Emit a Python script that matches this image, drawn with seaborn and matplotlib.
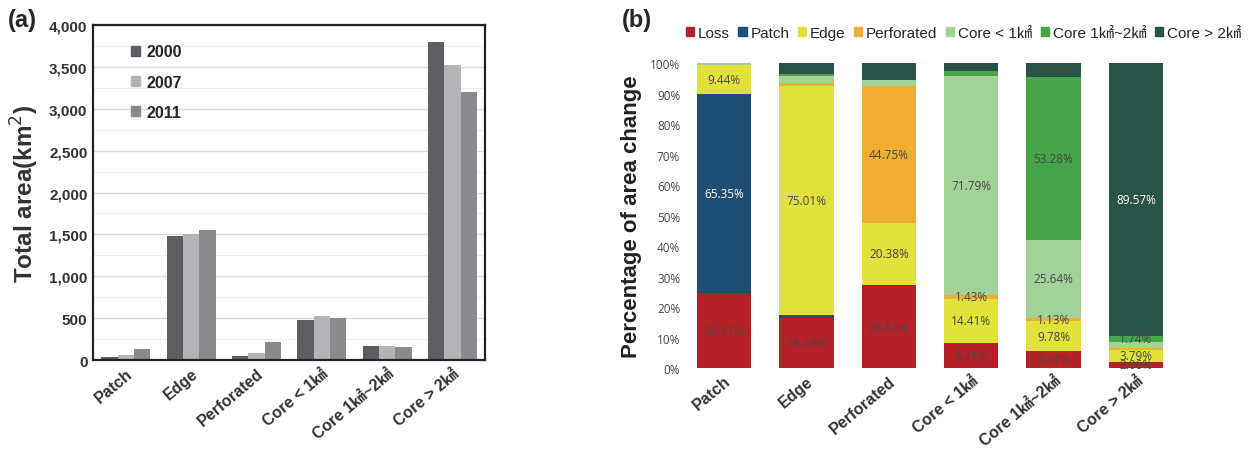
import numpy as np
import pandas as pd
import matplotlib.pyplot as plt
import matplotlib.ticker as mticker
from matplotlib.patches import Patch
import seaborn as sns

sns.set_theme(style="white")
plt.rcParams["font.family"] = ["Liberation Sans", "Noto Sans CJK KR", "DejaVu Sans"]

# ---- data -------------------------------------------------------------
CATEGORIES = ["Patch", "Edge", "Perforated", "Core < 1㎢", "Core 1㎢~2㎢", "Core > 2㎢"]
YEARS = ["2000", "2007", "2011"]
AREA_2000 = [40, 1480, 50, 480, 165, 3800]
AREA_2007 = [60, 1500, 85, 520, 165, 3520]
AREA_2011 = [130, 1555, 210, 500, 155, 3200]

LAYERS = ["Loss", "Patch", "Edge", "Perforated", "Core < 1㎢", "Core 1㎢~2㎢", "Core > 2㎢"]
PCT_LOSS = [24.61, 16.49, 26.87, 8.21, 5.47, 2.06]
PCT_PATCH = [65.35, 0.8, 0.4, 0.0, 0.0, 0.0]
PCT_EDGE = [9.44, 75.01, 20.38, 14.41, 9.78, 3.79]
PCT_PERF = [0.0, 1.0, 44.75, 1.43, 1.13, 0.8]
PCT_CORE1 = [0.6, 2.6, 2.0, 71.79, 25.64, 2.04]
PCT_CORE12 = [0.0, 0.4, 0.1, 1.5, 53.28, 1.74]
PCT_CORE2 = [0.0, 3.7, 5.5, 2.66, 4.70, 89.57]
# (layer index, category index) of the segments carrying a value label
LABELLED = [(0, 0), (1, 0), (2, 0), (0, 1), (2, 1), (0, 2), (2, 2), (3, 2),
            (0, 3), (2, 3), (3, 3), (4, 3), (0, 4), (2, 4), (3, 4), (4, 4),
            (5, 4), (6, 4), (0, 5), (2, 5), (5, 5), (6, 5)]
WHITE_LABELS = [(1, 0), (6, 5)]

GREYS = ["#5e5e62", "#b4b4b7", "#8a8a8e"]
LAYER_COLORS = ["#b52126", "#1f4e74", "#e0e13a", "#efad31",
                "#a2d298", "#45a548", "#2a5347"]

fig = plt.figure(figsize=(12.52, 4.52), dpi=100)

# ---- (a) grouped bars ------------------------------------------------
ax1 = fig.add_axes([0.0743, 0.2013, 0.3131, 0.7412])
df_a = pd.DataFrame({
    "category": CATEGORIES * 3,
    "year": np.repeat(YEARS, len(CATEGORIES)),
    "area": AREA_2000 + AREA_2007 + AREA_2011,
})
sns.barplot(data=df_a, x="category", y="area", hue="year", order=CATEGORIES,
            palette=GREYS, width=0.75, saturation=1, ax=ax1, edgecolor="none")
ax1.set_ylim(0, 4000)
ax1.set_xlim(-0.5, 5.5)
ax1.yaxis.set_major_locator(mticker.MultipleLocator(500))
ax1.yaxis.set_minor_locator(mticker.MultipleLocator(250))
ax1.yaxis.set_major_formatter(mticker.FuncFormatter(lambda v, _: f"{v:,.0f}"))
ax1.grid(axis="y", which="major", color="#dcdcdc", lw=1.0)
ax1.grid(axis="y", which="minor", color="#eeeeee", lw=0.8)
ax1.set_axisbelow(True)
for s in ax1.spines.values():
    s.set_color("#222222")
    s.set_linewidth(1.6)
ax1.tick_params(axis="both", length=0, labelsize=11, colors="#333333", pad=4)
for t in ax1.get_yticklabels():
    t.set_fontweight("bold")
ax1.set_xticks(range(len(CATEGORIES)))
ax1.set_xticklabels(CATEGORIES, rotation=40, ha="right", rotation_mode="anchor",
                    fontweight="bold", fontsize=11.5, color="#333333")
ax1.set_xlabel("")
ax1.set_ylabel("Total area(km$^2$)", fontsize=17.5, fontweight="bold",
               color="#333333", labelpad=6)
handles = [Patch(color=c) for c in GREYS]
ax1.legend(handles, YEARS, loc="upper left", bbox_to_anchor=(0.06, 0.985),
           frameon=False, handlelength=0.55, handleheight=0.55,
           handletextpad=0.4, labelspacing=0.95,
           prop={"weight": "bold", "size": 11.5})
fig.text(0.006, 0.955, "(a)", fontsize=17, fontweight="bold", va="center")

# ---- (b) stacked percentage bars -------------------------------------
ax2 = fig.add_axes([0.5455, 0.1836, 0.3946, 0.6748])
layers = np.array([PCT_LOSS, PCT_PATCH, PCT_EDGE, PCT_PERF,
                   PCT_CORE1, PCT_CORE12, PCT_CORE2])
cum = layers.cumsum(axis=0)
for i in range(len(LAYERS) - 1, -1, -1):
    sns.barplot(x=CATEGORIES, y=cum[i], order=CATEGORIES, color=LAYER_COLORS[i],
                width=0.66, saturation=1, ax=ax2, edgecolor="none")
for (li, ci) in LABELLED:
    mid = cum[li, ci] - layers[li, ci] / 2
    col = "white" if (li, ci) in WHITE_LABELS else "#474747"
    ax2.text(ci, mid, f"{layers[li, ci]:.2f}%", ha="center", va="center",
             fontsize=8.5, color=col, family="Open Sans")
ax2.set_ylim(0, 100)
ax2.set_xlim(-0.5, 5.5)
ax2.yaxis.set_major_locator(mticker.MultipleLocator(10))
ax2.yaxis.set_major_formatter(mticker.FuncFormatter(lambda v, _: f"{v:.0f}%"))
sns.despine(ax=ax2, left=True, bottom=True)
ax2.tick_params(axis="both", length=0)
ax2.tick_params(axis="y", labelsize=8.5, colors="#444444", pad=2)
for t in ax2.get_yticklabels():
    t.set_family("Open Sans")
ax2.set_xticks(range(len(CATEGORIES)))
ax2.set_xticklabels(CATEGORIES, rotation=40, ha="right", rotation_mode="anchor",
                    fontweight="bold", fontsize=11.5, color="#333333")
ax2.set_xlabel("")
ax2.set_ylabel("Percentage of area change", fontsize=16, fontweight="bold",
               color="#222222", labelpad=6)
handles = [Patch(color=c) for c in LAYER_COLORS]
fig.legend(handles, LAYERS, loc="center", bbox_to_anchor=(0.7695, 0.925), ncol=7,
           frameon=False, handlelength=0.55, handleheight=0.55,
           handletextpad=0.25, columnspacing=0.55, fontsize=11)
fig.text(0.497, 0.955, "(b)", fontsize=17, fontweight="bold", va="center")

fig.savefig("out.png", dpi=100, facecolor="white")
